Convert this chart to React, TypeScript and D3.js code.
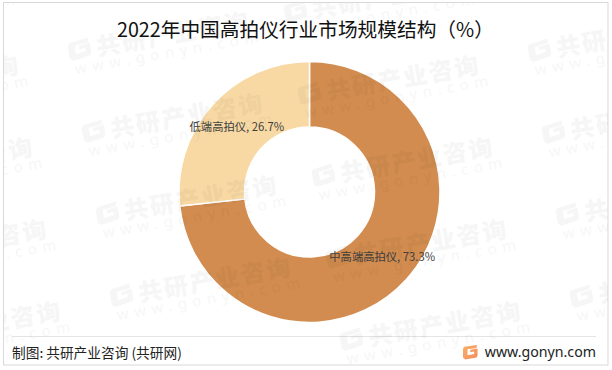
import React from "react";
import * as d3 from "d3";

const categories = ["中高端高拍仪", "低端高拍仪"];
const shares = [73.3, 26.7];
const sliceColors = ["#D28C4F", "#F8D9A4"];
const titleText = "2022年中国高拍仪行业市场规模结构（%）";
const sourceText = "制图: 共研产业咨询 (共研网)";
const siteText = "www.gonyn.com";
const wmName = "共研产业咨询";
const wmColumns = [
  { x: -160, y: 103 },
  { x: 70, y: 59 },
  { x: 300, y: 103 },
  { x: 530, y: 60 },
];
const wmRows = [-1, 0, 1, 2, 3];

const W = 612, H = 370;
const cx = 309.5, cy = 192, R = 130.5, r = 65;
const cjk = '"Noto Sans CJK SC", "Noto Sans", sans-serif';

const gPath = "M2 3 L25 0 L24 5 L8 7 L8 17 L20 15 L20 11 L13 12 L13 8 L26 6 L26 18 L24 21 L4 24 L0 21 L0 6 Z";

function Watermark({ x, y }: { x: number; y: number }) {
  return (
    <g transform={`translate(${x},${y}) rotate(-10)`} opacity={0.03} fill="#000">
      <path d={gPath} transform="translate(0,-18) scale(0.85)" />
      <text x={28} y={2} fontFamily={cjk} fontWeight={900} fontSize={24} letterSpacing={2}>{wmName}</text>
      <text x={3} y={16} fontFamily='"Noto Sans", sans-serif' fontSize={15} letterSpacing={5.7}>{siteText}</text>
    </g>
  );
}

export default function App() {
  const pie = d3.pie<number>().value((d) => d).sort(null);
  const arcs = pie(shares);
  const arc = d3.arc<d3.PieArcDatum<number>>().innerRadius(r).outerRadius(R);
  return (
    <svg width={W} height={H} style={{ position: "fixed", left: 0, top: 0, background: "#fff" }}>
      <defs>
        <linearGradient id="logo" x1="0" y1="0" x2="1" y2="1">
          <stop offset="0" stopColor="#F7B267" />
          <stop offset="1" stopColor="#F58A5C" />
        </linearGradient>
        <clipPath id="frame"><rect x={4} y={3} width={604} height={362} /></clipPath>
      </defs>
      <rect x={3.5} y={2.5} width={604.5} height={362.5} fill="#fff" stroke="#D9D9D9" strokeWidth={1} />
      <text x={117} y={37} fontFamily={cjk} fontSize={19.7} fill="#111">{titleText}</text>
      <g transform={`translate(${cx},${cy})`}>
        {arcs.map((a, i) => (
          <path key={categories[i]} d={arc(a) ?? ""} fill={sliceColors[i]} stroke="#fff" strokeWidth={1.5} />
        ))}
        {arcs.map((a, i) => {
          const [lx, ly] = arc.centroid(a);
          return (
            <text key={categories[i]} x={lx} y={ly + 4} textAnchor="middle" fontFamily={cjk} fontSize={11.3} fill="#404040">
              {`${categories[i]}, ${shares[i]}%`}
            </text>
          );
        })}
      </g>
      <line x1={12} x2={596} y1={336.5} y2={336.5} stroke="#E4E4E4" strokeWidth={1} />
      <text x={12} y={358} fontFamily={cjk} fontSize={13.7} fill="#222">{sourceText}</text>
      <path d={gPath} transform="translate(463,345) scale(0.56,0.6)" fill="url(#logo)" />
      <text x={596} y={357} textAnchor="end" fontFamily='"Noto Sans", sans-serif' fontSize={14.2} fill="#222">{siteText}</text>
      <g clipPath="url(#frame)">
        {wmColumns.flatMap((c, ci) =>
          wmRows.map((k) => <Watermark key={`${ci}-${k}`} x={c.x + k * 14} y={c.y + k * 82} />)
        )}
      </g>
    </svg>
  );
}
